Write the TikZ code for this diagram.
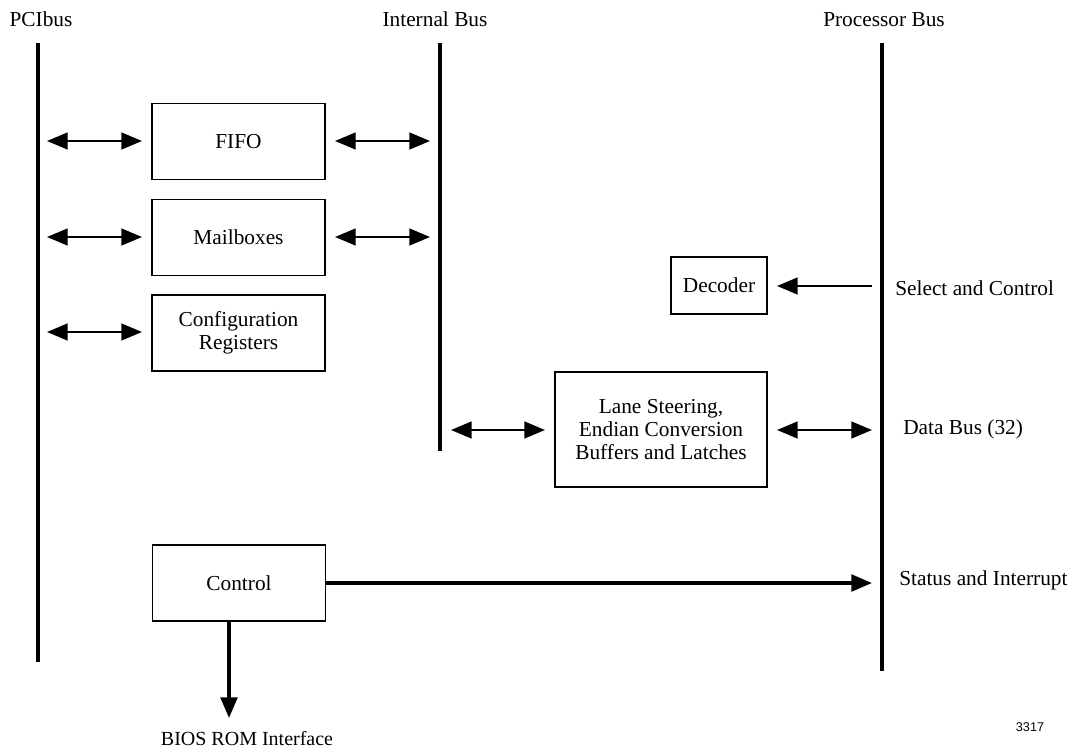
\documentclass[tikz,border=0pt]{standalone}
\usepackage{fontspec}
\setmainfont{Liberation Serif}
\newfontfamily\figsans{Liberation Sans}
\usetikzlibrary{arrows.meta}
\begin{document}
\begin{tikzpicture}[x=0.75pt,y=-0.75pt,
  every node/.style={font=\fontsize{16}{17.5}\selectfont},
  blk/.style={draw,line width=0.8pt,minimum width=173*0.75pt,minimum height=76*0.75pt,align=center,inner sep=0pt},
  bus/.style={line width=3pt},
  lbl/.style={inner sep=0pt,anchor=base west},
  tip/.style={line width=2.6pt,-{Triangle[length=15.5pt,width=12.5pt]}},
  thintip/.style={line width=1.9pt,-{Triangle[length=15.5pt,width=12.5pt]}},
  both/.style={line width=1.9pt,{Triangle[length=15.5pt,width=12.5pt]}-{Triangle[length=15.5pt,width=12.5pt]}}]
\useasboundingbox (0,0) rectangle (1077,755);

% bus labels
\node[anchor=base,inner sep=0pt] (pcil) at (41,27) {PCIbus};
\node[anchor=base,inner sep=0pt] (intl) at (435,27) {Internal Bus};
\node[anchor=base,inner sep=0pt] (prol) at (884,27) {Processor Bus};

% bus lines
\coordinate (pciT) at (38,43);  \coordinate (pciB) at (38,662);
\coordinate (intT) at (440,43); \coordinate (intB) at (440,451);
\coordinate (proT) at (882,43); \coordinate (proB) at (882,671);
\draw[bus] (pciT) -- (pciB);
\draw[bus] (intT) -- (intB);
\draw[bus] (proT) -- (proB);

% blocks
\node[blk] (fifo) at (238.5,141.5) {FIFO};
\node[blk] (mail) at (238.5,237.5) {Mailboxes};
\node[blk] (conf) at (238.5,333) {Configuration\\Registers};
\node[blk,minimum width=96*0.75pt,minimum height=57*0.75pt] (dec) at (719,285.5) {Decoder};
\node[blk,minimum width=212*0.75pt,minimum height=115*0.75pt] (lane) at (661,429.5) {Lane Steering,\\Endian Conversion\\Buffers and Latches};
\node[blk] (ctrl) at (239,583) {Control};

% side labels
\node[lbl] (selL) at (895,296) {Select and Control};
\node[lbl] (datL) at (903,434) {Data Bus (32)};
\node[lbl] (staL) at (899,585) {Status and Interrupt};
\node[anchor=base,inner sep=0pt,font=\fontsize{15}{17}\selectfont] (biosL) at (247,745) {BIOS ROM Interface};
\node[anchor=base,inner sep=0pt,font=\figsans\fontsize{9.5}{11}\selectfont] (num) at (1030,731) {3317};

% connection points on the buses
\coordinate (p1) at (47,141);   \coordinate (q1) at (142,141);
\coordinate (p2) at (47,237);   \coordinate (q2) at (142,237);
\coordinate (p3) at (47,332);   \coordinate (q3) at (142,332);
\coordinate (r1) at (335,141);  \coordinate (s1) at (430,141);
\coordinate (r2) at (335,237);  \coordinate (s2) at (430,237);
\coordinate (i4) at (451,430);  \coordinate (l4) at (545,430);
\coordinate (l5) at (777,430);  \coordinate (b5) at (872,430);
\coordinate (bs) at (872,286);  \coordinate (dd) at (777,286);
\coordinate (bi) at (872,583);
\coordinate (bios) at (229,718);

% connectors
\draw[both] (p1) -- (q1);
\draw[both] (p2) -- (q2);
\draw[both] (p3) -- (q3);
\draw[both] (r1) -- (s1);
\draw[both] (r2) -- (s2);
\draw[both] (i4) -- (l4);
\draw[both] (l5) -- (b5);
\draw[thintip] (bs) -- (dd);
\draw[tip] (ctrl.east) -- (bi);
\draw[tip] (ctrl.south -| bios) -- (bios);
\end{tikzpicture}
\end{document}
